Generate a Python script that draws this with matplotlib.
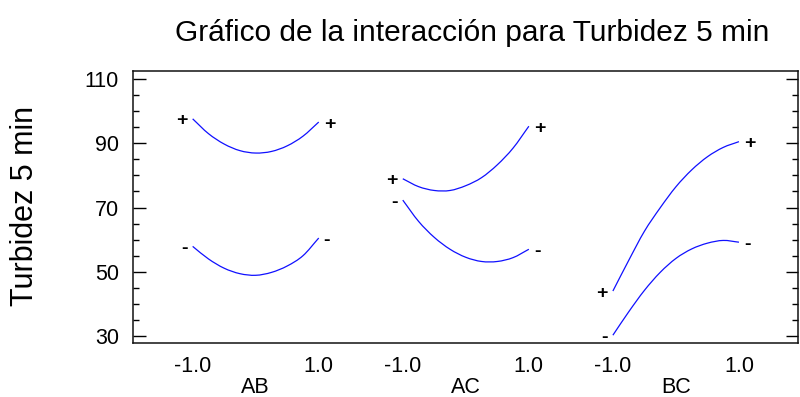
import matplotlib
matplotlib.use("Agg")
import matplotlib.pyplot as plt
import numpy as np
from matplotlib.ticker import MultipleLocator
from matplotlib.path import Path
from matplotlib.patches import PathPatch

plt.rcParams['font.family'] = ['Liberation Sans', 'DejaVu Sans']

title = "Gráfico de la interacción para Turbidez 5 min"
ylabel = "Turbidez 5 min"
factors = ["AB", "AC", "BC"]
levels = [-1.0, -0.75, -0.5, -0.25, 0.0, 0.25, 0.5, 0.75, 1.0]
end_labels = ["-1.0", "1.0"]
ab_plus = [97.6, 93.0, 89.75, 87.7, 86.95, 87.45, 89.2, 92.2, 96.6]
ab_minus = [57.9, 54.0, 51.1, 49.4, 48.9, 49.8, 51.8, 55.0, 60.5]
ac_plus = [78.95, 76.5, 75.3, 75.3, 76.8, 79.3, 83.3, 88.5, 95.3]
ac_minus = [72.3, 65.7, 60.7, 57.0, 54.5, 53.2, 53.2, 54.4, 57.0]
bc_plus = [44.0, 53.5, 62.6, 69.9, 76.45, 81.7, 85.8, 88.7, 90.5]
bc_minus = [30.25, 37.5, 44.2, 49.8, 54.15, 57.1, 58.9, 59.75, 59.2]
yticks = [30, 50, 70, 90, 110]

plus_series = [ab_plus, ac_plus, bc_plus]
minus_series = [ab_minus, ac_minus, bc_minus]


def smooth_path(x, y):
    """Cubic Bezier path passing through every given point (Catmull-Rom tangents)."""
    p = np.column_stack([x, y])
    n = len(p)
    m = np.zeros_like(p)
    m[1:-1] = (p[2:] - p[:-2]) / 2.0
    m[0] = p[1] - p[0]
    m[-1] = p[-1] - p[-2]
    verts = [p[0]]
    codes = [Path.MOVETO]
    for i in range(n - 1):
        verts += [p[i] + m[i] / 3.0, p[i + 1] - m[i + 1] / 3.0, p[i + 1]]
        codes += [Path.CURVE4] * 3
    return Path(verts, codes)


W, H = 800, 397
fig = plt.figure(figsize=(W / 100, H / 100), dpi=100)
ax = fig.add_axes([133 / W, 1 - 343.3 / H, (798 - 133) / W, (343.3 - 71) / H])

half = 0.3
lv = np.array(levels)
xt, xtl = [], []
for i, f in enumerate(factors):
    x = i + half * lv
    for vals, sym in [(plus_series[i], '+'), (minus_series[i], '-')]:
        ax.add_patch(PathPatch(smooth_path(x, np.array(vals)), facecolor='none',
                               edgecolor='#1010ff', lw=0.9))
        ax.annotate(sym, (x[0], vals[0]), xytext=(-5, -2), textcoords='offset pixels',
                    ha='right', va='center', fontsize=14, fontweight='bold')
        ax.annotate(sym, (x[-1], vals[-1]), xytext=(5, -2), textcoords='offset pixels',
                    ha='left', va='center', fontsize=14, fontweight='bold')
    xt += [i - half, i + half]
    xtl += end_labels

ax.set_xlim(-0.584, 2.581)
ax.set_ylim(27.73, 112.49)
ax.set_xticks(xt)
ax.set_xticklabels(xtl, fontsize=15.5)
ax.set_xticks(range(len(factors)), minor=True)
ax.set_xticklabels(factors, minor=True, fontsize=15.5)
ax.tick_params(axis='x', which='major', length=0, pad=9)
ax.tick_params(axis='x', which='minor', length=0, pad=24)

ax.set_yticks(yticks)
ax.set_yticklabels([str(v) for v in yticks], fontsize=15.5)
ax.yaxis.set_minor_locator(MultipleLocator(5))
ax.tick_params(axis='y', which='major', direction='in', length=9, width=1.0,
               left=True, right=True, pad=10)
ax.tick_params(axis='y', which='minor', direction='in', length=4, width=1.0,
               left=True, right=True)
for s in ax.spines.values():
    s.set_linewidth(1.1)
    s.set_color('#111111')

fig.text(25 / W, 1 - 206 / H, ylabel, rotation=90, ha='center', va='center', fontsize=22)
fig.text(471.7 / W, 1 - 33 / H, title, ha='center', va='center', fontsize=21.5)

fig.savefig("out.png", dpi=100)
